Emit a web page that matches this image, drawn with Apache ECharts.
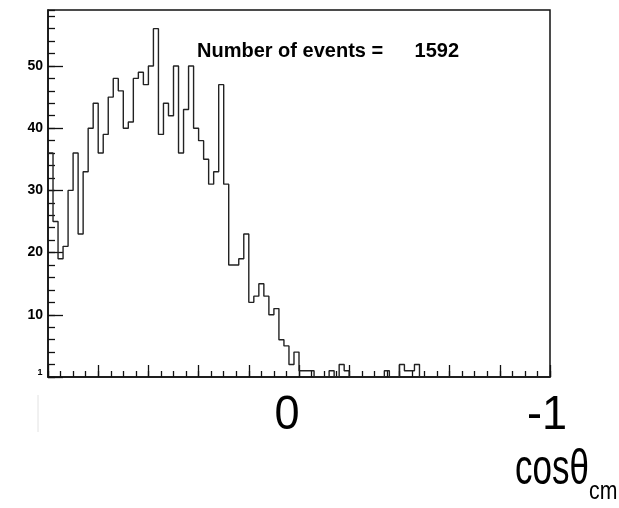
<!DOCTYPE html>
<html>
<head>
<meta charset="utf-8">
<script src="https://cdn.jsdelivr.net/npm/echarts@6/dist/echarts.min.js"></script>
<style>
html,body{margin:0;padding:0;background:#fff;}
#chart{width:619px;height:508px;}
</style>
</head>
<body>
<div id="chart"></div>
<script>
// Histogram of cos(theta_cm): 100 bins from +1 (left) to -1 (right)
const xStart = 1;
const xEnd = -1;
const binCounts = [
  36, 25, 19, 21, 30, 36, 23, 33, 40, 44,
  36, 39, 45, 48, 46, 40, 41, 48, 49, 47,
  50, 56, 39, 44, 42, 50, 36, 43, 50, 40,
  38, 35, 31, 33, 47, 31, 18, 18, 19, 23,
  12, 13, 15, 13, 10, 11, 6, 5, 2, 4,
  1, 1, 1, 0, 0, 0, 1, 0, 2, 1,
  0, 0, 0, 0, 0, 0, 0, 1, 0, 0,
  2, 1, 1, 2, 0, 0, 0, 0, 0, 0,
  0, 0, 0, 0, 0, 0, 0, 0, 0, 0,
  0, 0, 0, 0, 0, 0, 0, 0, 0, 0
];
const yMax = 59;
const yMajorStep = 10;
const yMinorStep = 2;
const xMajorStep = 0.2;
const xMinorStep = 0.05;
const xTickLabels = ['0', '-1'];
const statLabel = 'Number of events =';
const statValue = '1592';
const axisTitleMain = 'cosθ';
const axisTitleSub = 'cm';

const nBins = binCounts.length;
const binWidth = (xStart - xEnd) / nBins;
const stepData = binCounts.map((c, i) => [xStart - binWidth * i, c]);
stepData.push([xEnd, binCounts[nBins - 1]]);

const chart = echarts.init(document.getElementById('chart'), null, {renderer: 'canvas'});
const fontF = '"Liberation Sans", Arial, Helvetica, sans-serif';

chart.setOption({
  animation: false,
  backgroundColor: '#fff',
  grid: {
    left: 48, right: 69, top: 10, bottom: 131,
    show: true, borderColor: '#111', borderWidth: 1.5, backgroundColor: 'transparent'
  },
  xAxis: [
    {
      type: 'value', min: xEnd, max: xStart, inverse: true, interval: xMajorStep,
      position: 'bottom',
      axisLine: {show: true, onZero: false, lineStyle: {color: '#111', width: 1.5}},
      axisTick: {show: true, inside: true, length: 12, lineStyle: {color: '#111', width: 1.3}},
      axisLabel: {show: false},
      splitLine: {show: false}
    },
    {
      type: 'value', min: xEnd, max: xStart, inverse: true, interval: xMinorStep,
      position: 'bottom', offset: 0,
      axisLine: {show: false, onZero: false},
      axisTick: {show: true, inside: true, length: 6, lineStyle: {color: '#111', width: 1.3}},
      axisLabel: {show: false},
      splitLine: {show: false}
    }
  ],
  yAxis: [
    {
      type: 'value', min: 0, max: yMax, interval: yMajorStep, position: 'left',
      axisLine: {show: true, onZero: false, lineStyle: {color: '#111', width: 1.5}},
      axisTick: {show: true, inside: true, length: 15, lineStyle: {color: '#111', width: 1.3}},
      axisLabel: {
        show: true, margin: 5, color: '#000', fontSize: 14, fontWeight: 'bold', fontFamily: fontF,
        showMaxLabel: false,
        formatter: v => (v === 0 || v === yMax) ? '' : String(v)
      },
      splitLine: {show: false}
    },
    {
      type: 'value', min: 0, max: yMax, interval: yMinorStep, position: 'left', offset: 0,
      axisLine: {show: false, onZero: false},
      axisTick: {show: true, inside: true, length: 7, lineStyle: {color: '#111', width: 1.3}},
      axisLabel: {show: false},
      splitLine: {show: false}
    }
  ],
  series: [{
    type: 'line',
    xAxisIndex: 0, yAxisIndex: 0,
    step: 'end',
    data: stepData,
    showSymbol: false,
    symbol: 'none',
    lineStyle: {color: '#222', width: 1.4},
    silent: true
  }],
  graphic: [
    {type: 'text', left: 197, top: 41,
     style: {text: statLabel, fontSize: 20, fontWeight: 'bold', fontFamily: fontF, fill: '#000'}},
    {type: 'text', right: 619 - 459, top: 41,
     style: {text: statValue, fontSize: 20, fontWeight: 'bold', fontFamily: fontF, fill: '#000'}},
    {type: 'text', x: 287, y: 415, scaleX: 0.92,
     style: {text: xTickLabels[0], fontSize: 49, fontFamily: fontF, fill: '#000', align: 'center', verticalAlign: 'middle'}},
    {type: 'text', x: 547, y: 415, scaleX: 0.92,
     style: {text: xTickLabels[1], fontSize: 49, fontFamily: fontF, fill: '#000', align: 'center', verticalAlign: 'middle'}},
    {type: 'text', x: 589, y: 470, scaleX: 0.7,
     style: {text: axisTitleMain, fontSize: 50, fontFamily: fontF, fill: '#000', align: 'right', verticalAlign: 'middle'}},
    {type: 'text', x: 589, y: 492, scaleX: 0.85,
     style: {text: axisTitleSub, fontSize: 25, fontFamily: fontF, fill: '#000', align: 'left', verticalAlign: 'middle'}},
    {type: 'text', x: 40, y: 373,
     style: {text: '1', fontSize: 9, fontWeight: 'bold', fontFamily: fontF, fill: '#000', align: 'center', verticalAlign: 'middle'}},
    {type: 'line', shape: {x1: 38, y1: 395, x2: 38, y2: 432}, style: {stroke: '#e2e2e2', lineWidth: 1}}
  ]
});
</script>
</body>
</html>
